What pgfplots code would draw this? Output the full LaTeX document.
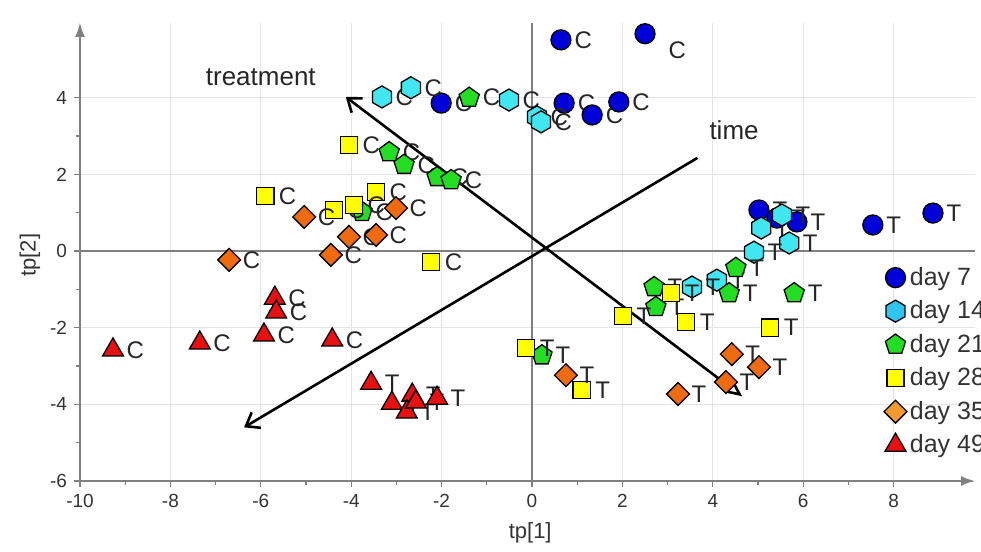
\documentclass[border=0pt]{standalone}
\usepackage{fontspec}
\setmainfont{Liberation Sans}
\usepackage{pgfplots}
\pgfplotsset{compat=1.18}
\usepackage{pgfplotstable}
\usetikzlibrary{arrows.meta,calc}

\definecolor{dblue}{HTML}{0000D8}
\definecolor{dcyan}{HTML}{40E6F2}
\definecolor{lcyan}{HTML}{30C4EE}
\definecolor{dgreen}{HTML}{22DD22}
\definecolor{dyellow}{HTML}{FFFF00}
\definecolor{dorange}{HTML}{F06A10}
\definecolor{lorange}{HTML}{F29A2E}
\definecolor{dred}{HTML}{E81010}

% pointy-top hexagon and square diamond
\pgfdeclareplotmark{hexagon*}{%
  \pgfpathmoveto{\pgfqpointpolar{90}{\pgfplotmarksize}}%
  \pgfpathlineto{\pgfqpointpolar{150}{\pgfplotmarksize}}%
  \pgfpathlineto{\pgfqpointpolar{210}{\pgfplotmarksize}}%
  \pgfpathlineto{\pgfqpointpolar{270}{\pgfplotmarksize}}%
  \pgfpathlineto{\pgfqpointpolar{330}{\pgfplotmarksize}}%
  \pgfpathlineto{\pgfqpointpolar{30}{\pgfplotmarksize}}%
  \pgfpathclose
  \pgfusepathqfillstroke
}
\pgfdeclareplotmark{rdiamond*}{%
  \pgfpathmoveto{\pgfqpoint{0pt}{\pgfplotmarksize}}%
  \pgfpathlineto{\pgfqpoint{\pgfplotmarksize}{0pt}}%
  \pgfpathlineto{\pgfqpoint{0pt}{-\pgfplotmarksize}}%
  \pgfpathlineto{\pgfqpoint{-\pgfplotmarksize}{0pt}}%
  \pgfpathclose
  \pgfusepathqfillstroke
}

\pgfplotstableread{
x y lab
0.64 5.51 C
-2.01 3.86 C
0.71 3.86 C
1.33 3.55 C
1.92 3.89 C
5.02 1.07 T
5.42 0.86 T
5.86 0.76 T
7.54 0.68 T
8.87 0.99 T
}\dseven
% the one day-7 point whose label sits below right
\pgfplotstableread{
x y lab
2.50 5.67 C
}\dsevenb
\pgfplotstableread{
x y lab
-3.32 4.02 C
-2.68 4.26 C
-0.51 3.94 C
0.11 3.50 C
0.20 3.37 C
5.07 0.60 T
5.53 0.94 T
5.69 0.21 T
4.91 -0.03 T
4.09 -0.76 T
3.54 -0.94 T
}\dfourteen
\pgfplotstableread{
x y lab
-1.39 4.00 C
-3.16 2.58 C
-2.83 2.25 C
-2.10 1.93 C
-1.79 1.85 C
-3.76 1.02 C
2.70 -0.94 T
2.74 -1.46 T
4.36 -1.10 T
4.51 -0.44 T
5.80 -1.10 T
0.22 -2.72 T
}\dtwentyone
\pgfplotstableread{
x y lab
-4.05 2.77 C
-3.45 1.54 C
-4.38 1.07 C
-3.94 1.20 C
-2.23 -0.29 C
-5.90 1.44 C
-0.13 -2.53 T
1.10 -3.63 T
2.01 -1.70 T
3.08 -1.10 T
3.41 -1.85 T
5.27 -2.00 T
}\dtwentyeight
\pgfplotstableread{
x y lab
-6.70 -0.23 C
-5.04 0.89 C
-3.01 1.12 C
-4.05 0.37 C
-3.45 0.42 C
-4.45 -0.10 C
0.75 -3.24 T
3.23 -3.73 T
4.42 -2.69 T
4.29 -3.42 T
5.02 -3.03 T
}\dthirtyfive
\pgfplotstableread{
x y lab
-9.27 -2.58 C
-7.35 -2.40 C
-5.93 -2.19 C
-5.69 -1.23 C
-5.66 -1.59 C
-4.42 -2.32 C
-3.56 -3.45 T
-3.10 -3.97 T
-2.65 -3.76 T
-2.77 -4.20 T
-2.57 -3.94 T
-2.10 -3.84 T
}\dfortynine

\begin{document}
\begin{tikzpicture}
\begin{axis}[
  scale only axis,
  width=447.5pt, height=229pt,
  xmin=-10, xmax=9.8, ymin=-6, ymax=5.95,
  axis lines=left,
  axis line style={gray, line width=0.9pt, -{Latex[length=7pt,width=5pt]}},
  xtick={-10,-8,...,8}, ytick={-6,-4,...,4},
  minor tick num=1,
  tick align=outside,
  major tick length=3pt, minor tick length=2pt,
  tick style={gray, line width=0.6pt},
  grid=major,
  major grid style={black!10, line width=0.5pt},
  tick label style={font=\fontsize{9.5}{10}\selectfont, text=black!80},
  /pgf/number format/assume math mode=true,
  xlabel={tp[1]}, ylabel={tp[2]},
  label style={font=\fontsize{11}{12}\selectfont, text=black!80},
  x label style={at={(axis description cs:0.503,-0.113)}, anchor=center},
  y label style={at={(axis description cs:-0.056,0.493)}, anchor=center, rotate=0},
  every axis plot/.append style={line width=0.65pt},
  nodes near coords,
  point meta=explicit symbolic,
  nodes near coords style={anchor=west, xshift=6pt, inner sep=0.5pt,
    font=\fontsize{12}{12}\selectfont, text=black!85},
  legend style={at={(axis cs:7.78,-0.33)}, anchor=north west, draw=none, fill=none,
    font=\fontsize{12.5}{13}\selectfont, text=black!80, row sep=3.2pt,
    inner sep=0pt, nodes={inner sep=1.5pt}},
  legend cell align=left,
]
% reference lines through zero
\draw[gray, line width=0.9pt] (axis cs:0,-6) -- (axis cs:0,5.95);
\draw[gray, line width=0.9pt] (axis cs:-10,0) -- (axis cs:9.8,0);

\addplot[only marks, mark=*, mark size=5pt, draw=black, fill=dblue, forget plot]
  table[x=x, y=y, meta=lab] {\dseven};
\addplot[only marks, mark=*, mark size=5pt, draw=black, fill=dblue, forget plot,
  nodes near coords style={anchor=north west, xshift=5pt, yshift=-3pt}]
  table[x=x, y=y, meta=lab] {\dsevenb};
\addplot[only marks, mark=hexagon*, mark size=5.5pt, draw=black, fill=dcyan, forget plot]
  table[x=x, y=y, meta=lab] {\dfourteen};
\addplot[only marks, mark=pentagon*, mark size=5.3pt, draw=black, fill=dgreen, forget plot]
  table[x=x, y=y, meta=lab] {\dtwentyone};
\addplot[only marks, mark=square*, mark size=4.3pt, draw=black, fill=dyellow, forget plot]
  table[x=x, y=y, meta=lab] {\dtwentyeight};
\addplot[only marks, mark=rdiamond*, mark size=5.7pt, draw=black, fill=dorange, forget plot]
  table[x=x, y=y, meta=lab] {\dthirtyfive};
\addplot[only marks, mark=triangle*, mark size=6pt, draw=black, fill=dred, forget plot]
  table[x=x, y=y, meta=lab] {\dfortynine};

% direction arrows
\addplot[black, line width=1.3pt, no marks, nodes near coords={}, forget plot,
  {Straight Barb[length=6pt,width=9pt]}-{Triangle[open,length=8pt,width=7pt,fill=white]}]
  coordinates {(-4.12,4.02) (4.65,-3.79)};
\addplot[black, line width=1.3pt, no marks, nodes near coords={}, forget plot,
  -{Straight Barb[length=6pt,width=9pt]}]
  coordinates {(3.66,2.43) (-6.37,-4.60)};
\node[font=\fontsize{13}{13}\selectfont, text=black!85] at (axis cs:-6.0,4.54) {treatment};
\node[font=\fontsize{13}{13}\selectfont, text=black!85] at (axis cs:4.47,3.16) {time};

\addlegendimage{only marks, mark=*, mark size=5pt, draw=black, fill=dblue, line width=0.65pt}
\addlegendentry{day 7}
\addlegendimage{only marks, mark=hexagon*, mark size=5.5pt, draw=black, fill=lcyan, line width=0.65pt}
\addlegendentry{day 14}
\addlegendimage{only marks, mark=pentagon*, mark size=5.3pt, draw=black, fill=dgreen, line width=0.65pt}
\addlegendentry{day 21}
\addlegendimage{only marks, mark=square*, mark size=4.3pt, draw=black, fill=dyellow, line width=0.65pt}
\addlegendentry{day 28}
\addlegendimage{only marks, mark=rdiamond*, mark size=5.7pt, draw=black, fill=lorange, line width=0.65pt}
\addlegendentry{day 35}
\addlegendimage{only marks, mark=triangle*, mark size=6pt, draw=black, fill=dred, line width=0.65pt}
\addlegendentry{day 49}
\end{axis}
\pgfresetboundingbox
\path[use as bounding box] ($(current axis.south west)+(-40pt,-35.5pt)$)
  rectangle ($(current axis.north east)+(3pt,11.5pt)$);
\end{tikzpicture}
\end{document}
